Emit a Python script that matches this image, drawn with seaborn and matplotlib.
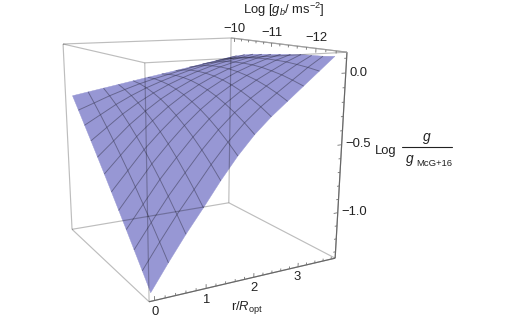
import numpy as np
import matplotlib
matplotlib.use("Agg")
import matplotlib.pyplot as plt
from matplotlib.lines import Line2D
from mpl_toolkits.mplot3d.art3d import Line3DCollection
import seaborn as sns

# ---- data ----
r_values = [0.0, 0.341, 0.682, 1.023, 1.364, 1.705, 2.045, 2.386, 2.727, 3.068, 3.409, 3.75]
log_gb_values = [-10.0, -10.227, -10.455, -10.682, -10.909, -11.136, -11.364, -11.591, -11.818, -12.045, -12.273, -12.5]
log_ratio = [
    [-.250,-.229,-.208,-.187,-.166,-.145,-.125,-.104,-.083,-.062,-.041,-.020],
    [-.342,-.297,-.251,-.211,-.174,-.142,-.114,-.086,-.061,-.039,-.019,.005],
    [-.436,-.368,-.300,-.241,-.190,-.147,-.109,-.074,-.045,-.021,.000,.025],
    [-.530,-.442,-.353,-.278,-.213,-.158,-.111,-.070,-.034,-.007,.016,.040],
    [-.625,-.519,-.412,-.322,-.242,-.176,-.119,-.071,-.030,.001,.028,.050],
    [-.721,-.599,-.476,-.372,-.279,-.201,-.135,-.079,-.032,.005,.037,.060],
    [-.819,-.682,-.545,-.429,-.323,-.234,-.157,-.093,-.040,.004,.042,.070],
    [-.917,-.768,-.620,-.492,-.374,-.272,-.186,-.114,-.054,-.002,.044,.080],
    [-1.016,-.857,-.700,-.562,-.432,-.318,-.222,-.141,-.073,-.014,.043,.090],
    [-1.117,-.948,-.785,-.639,-.497,-.371,-.264,-.175,-.099,-.029,.037,.095],
    [-1.218,-1.043,-.875,-.722,-.569,-.431,-.313,-.215,-.131,-.051,.029,.100],
    [-1.320,-1.141,-.970,-.812,-.648,-.498,-.369,-.262,-.169,-.076,.017,.110],
]
r_ticks = [0, 1, 2, 3]
r_minor = [0.2, 0.4, 0.6, 0.8, 1.2, 1.4, 1.6, 1.8, 2.2, 2.4, 2.6, 2.8, 3.2, 3.4, 3.6, 3.8]
gb_ticks = [-10, -11, -12]
gb_minor = [-10.2, -10.4, -10.6, -10.8, -11.2, -11.4, -11.6, -11.8, -12.2, -12.4]
z_ticks = [0.0, -0.5, -1.0]
z_minor = [0.1, -0.1, -0.2, -0.3, -0.4, -0.6, -0.7, -0.8, -0.9, -1.1, -1.2, -1.3]

sns.set_theme(style="white")
plt.rcParams["font.family"] = ["Liberation Sans", "DejaVu Sans"]
plt.rcParams["mathtext.fontset"] = "custom"
plt.rcParams["mathtext.rm"] = "Liberation Sans"
plt.rcParams["mathtext.it"] = "Liberation Sans:italic"
plt.rcParams["mathtext.bf"] = "Liberation Sans:bold"

W, H = 523, 322
fig = plt.figure(figsize=(W / 100, H / 100), dpi=100, facecolor="white")
ax = fig.add_axes([0, 0, 1, 1], projection="3d")
ax.set_xticks([]); ax.set_yticks([]); ax.set_zticks([])
ax.set_axis_off()
ax.patch.set_visible(False)
ax.computed_zorder = False

# box limits and the perspective camera that frames them
RB = (-0.1, 3.9)
GB = (-9.9, -12.6)
ZB = (-1.35, 0.14)
corners = {  # (r index, gb index, z index): screen pixel
    (0, 1, 0): (149, 302), (1, 1, 0): (335, 258), (1, 0, 0): (229, 203), (0, 0, 0): (72, 229),
    (0, 1, 1): (145, 63), (1, 1, 1): (347, 52), (1, 0, 1): (231, 38), (0, 0, 1): (63, 44),
}
rows = []
for (i, j, k), (u, v) in corners.items():
    X = [RB[i], GB[j], ZB[k], 1.0]
    rows.append(X + [0, 0, 0, 0] + [-u * c for c in X])
    rows.append([0, 0, 0, 0] + X + [-v * c for c in X])
P = np.linalg.svd(np.array(rows))[2][-1].reshape(3, 4)
centre = np.array([1.9, -11.25, -0.6, 1.0])
if P[2] @ centre < 0:
    P = -P
w0 = P[2] @ centre
depth = P[2] + np.array([0, 0, 0, -0.5 * w0])
M = np.vstack([P[0], P[1], depth, P[2]])
ax.get_proj = lambda: M
ax.apply_aspect = lambda position=None: None
ax.viewLim.intervalx = (0, W)
ax.viewLim.intervaly = (H, 0)

def project(x, y, z):
    h = P @ np.array([x, y, z, 1.0])
    return h[0] / h[2] / W, 1 - h[1] / h[2] / H

def add_lines(segs, **kw):
    ax.add_collection3d(Line3DCollection(segs, capstyle="butt", **kw))

# surface and mesh
R, G = np.meshgrid(r_values, log_gb_values)
Z = np.array(log_ratio)
ax.plot_surface(R, G, Z, rstride=1, cstride=1, color="#9797d4", shade=False,
                edgecolor="#9797d4", linewidth=0.3, zorder=2)
mesh = [np.column_stack([R[i], G[i], Z[i]]) for i in range(1, Z.shape[0] - 1)]
mesh += [np.column_stack([R[:, j], G[:, j], Z[:, j]]) for j in range(1, Z.shape[1] - 1)]
add_lines(mesh, colors="#444466", linewidths=0.65, alpha=0.65, zorder=3)

# box frame
frame = []
for a, b in [((0,1,0),(1,1,0)), ((1,1,0),(1,0,0)), ((1,0,0),(0,0,0)), ((0,0,0),(0,1,0)),
             ((0,1,1),(1,1,1)), ((1,1,1),(1,0,1)), ((1,0,1),(0,0,1)), ((0,0,1),(0,1,1)),
             ((0,1,0),(0,1,1)), ((1,1,0),(1,1,1)), ((1,0,0),(1,0,1)), ((0,0,0),(0,0,1))]:
    frame.append([(RB[a[0]], GB[a[1]], ZB[a[2]]), (RB[b[0]], GB[b[1]], ZB[b[2]])])
add_lines(frame, colors="black", linewidths=0.85, alpha=0.26, zorder=4)

add_lines([[(RB[0], GB[1], ZB[0]), (RB[1], GB[1], ZB[0])],
           [(RB[1], GB[1], ZB[0]), (RB[1], GB[1], ZB[1])]], colors="#666666", linewidths=0.85, zorder=5)
add_lines([[(RB[1], GB[0], ZB[1]), (RB[1], GB[1], ZB[1])]], colors="#a0a0a0", linewidths=0.85, zorder=5)

ticks = []
for vals, length in ((r_ticks, 0.03), (r_minor, 0.018)):
    ticks += [[(v, GB[1], ZB[0]), (v, GB[1], ZB[0] + length)] for v in vals]
for vals, length in ((gb_ticks, 0.03), (gb_minor, 0.018)):
    ticks += [[(RB[1], v, ZB[1]), (RB[1], v, ZB[1] - length)] for v in vals]
for vals, length in ((z_ticks, 0.1), (z_minor, 0.055)):
    ticks += [[(RB[1], GB[1], v), (RB[1] - length, GB[1], v)] for v in vals]
add_lines(ticks, colors="#707070", linewidths=0.6, zorder=5)

# tick labels
fs = 9.4
tc = "#222222"
for v in r_ticks:
    fig.text(*project(v, GB[1], ZB[0] - 0.08), str(v), ha="center", va="center", fontsize=fs, color=tc)
for v in gb_ticks:
    fig.text(*project(RB[1], v, ZB[1] + 0.075), "\u2212%d" % abs(v), ha="center", va="center", fontsize=fs, color=tc)
for v in z_ticks:
    lab = ("%.1f" % v).replace("-", "\u2212")
    fig.text(*project(RB[1] + 0.08, GB[1], v), lab, ha="left", va="center", fontsize=fs, color=tc)

# axis titles
def px(x, y):
    return x / W, 1 - y / H
fig.text(*px(283.5, 10), r"Log [$g_b$/ ms$^{-2}$]", ha="center", va="center", fontsize=fs, color=tc)
fig.text(*px(247, 307), r"r/$R_{\mathrm{opt}}$", ha="center", va="center", fontsize=fs, color=tc)
fig.text(*px(375, 151), "Log", ha="left", va="center", fontsize=fs, color=tc)
fig.text(*px(427, 139), r"$g$", ha="center", va="center", fontsize=fs + 0.5, color=tc)
fig.add_artist(Line2D([402 / W, 452 / W], [1 - 147 / H, 1 - 147 / H], color=tc, lw=0.8))
fig.text(*px(405, 161), r"$g$", ha="left", va="center", fontsize=fs + 0.5, color=tc)
fig.text(*px(416, 163), "McG+16", ha="left", va="center", fontsize=6.8, color=tc)

fig.savefig("out.png", dpi=100, facecolor="white")
